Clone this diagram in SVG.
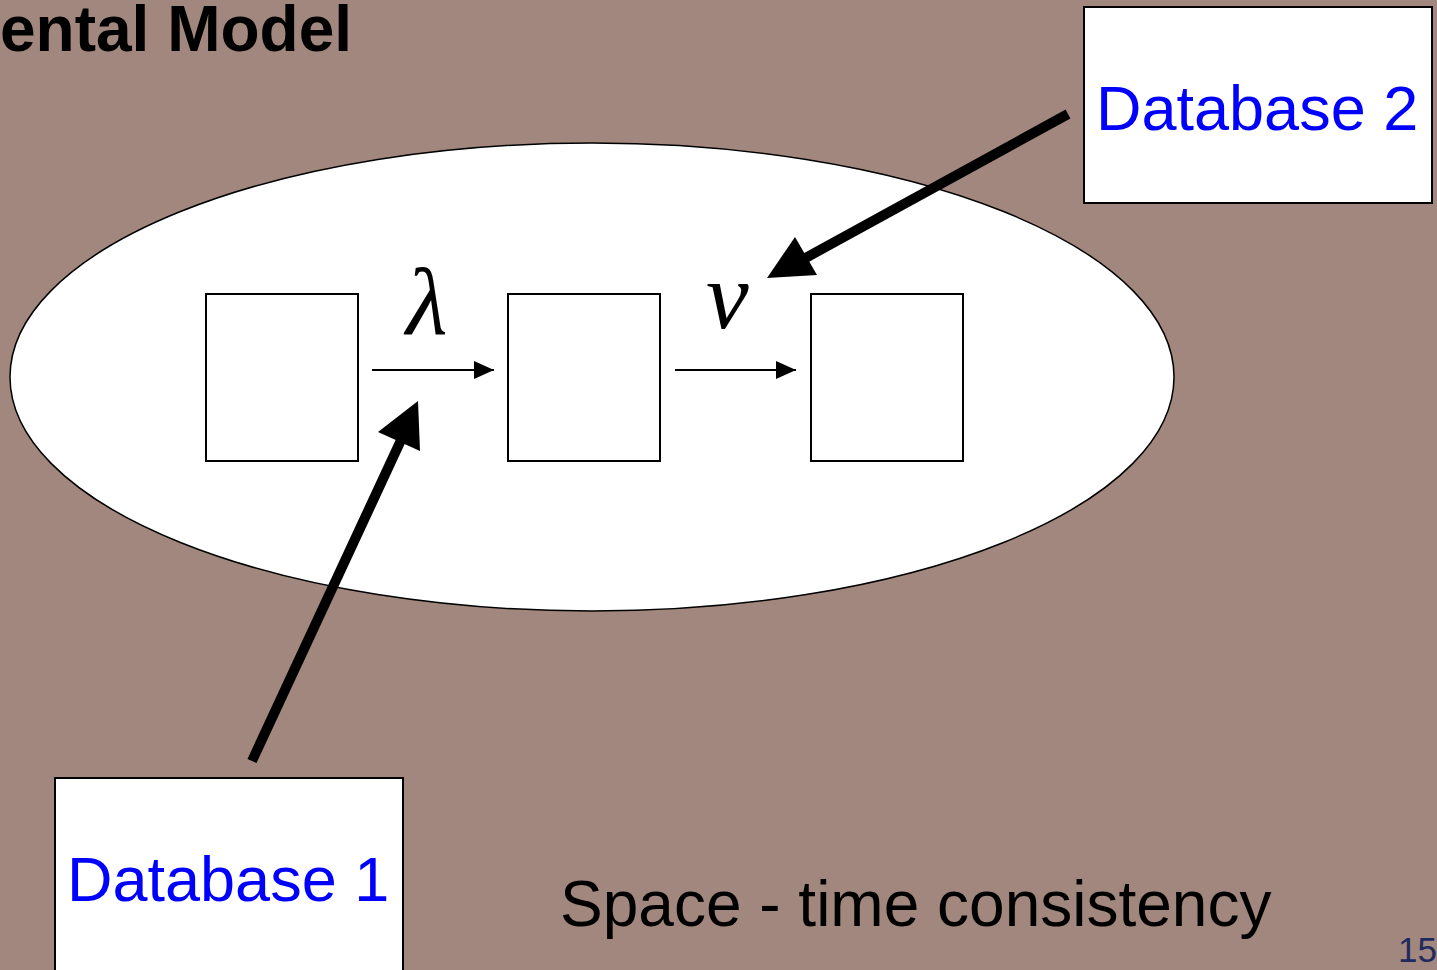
<svg xmlns="http://www.w3.org/2000/svg" width="1437" height="970" viewBox="0 0 1437 970">
<defs>
<style>
.box{fill:#fff;stroke:#000;stroke-width:2}
.db{font-family:"Liberation Sans",Arial,sans-serif;font-size:63px;fill:#0000ff}
.thin{stroke:#000;stroke-width:2;fill:none}
.thick{stroke:#000;stroke-width:10;fill:none}
.greek{font-family:"Liberation Serif","DejaVu Serif",serif;font-style:italic;font-size:96px;fill:#000}
</style>
<marker id="ah" markerWidth="20" markerHeight="18" refX="20" refY="9" orient="auto" markerUnits="userSpaceOnUse">
<path d="M0,0 L20,9 L0,18 Z" fill="#000"/>
</marker>
</defs>
<rect x="0" y="0" width="1437" height="970" fill="#a1877d"/>
<text x="0" y="51" font-family="Liberation Sans,Arial,sans-serif" font-weight="bold" font-size="64" fill="#000">ental Model</text>
<g id="model">
<ellipse cx="592" cy="377" rx="582" ry="234" fill="#fff" stroke="#000" stroke-width="1.5"/>
</g>
<g id="state1"><rect class="box" x="206" y="294" width="152" height="167"/></g>
<g id="state2"><rect class="box" x="508" y="294" width="152" height="167"/></g>
<g id="state3"><rect class="box" x="811" y="294" width="152" height="167"/></g>
<g id="database2">
<rect class="box" x="1084" y="7" width="348" height="196"/>
<text class="db" x="1096" y="130">Database 2</text>
</g>
<g id="database1">
<rect class="box" x="55" y="778" width="348" height="200"/>
<text class="db" x="67" y="901">Database 1</text>
</g>
<g id="connectors">
<line class="thin" x1="372" y1="370" x2="494" y2="370" marker-end="url(#ah)"/>
<line class="thin" x1="675" y1="370" x2="796" y2="370" marker-end="url(#ah)"/>
<line class="thick" x1="252" y1="761" x2="402" y2="438"/>
<path d="M418,401 L378,432 L420,451 Z" fill="#000"/>
<line class="thick" x1="1068" y1="114" x2="800" y2="261"/>
<path d="M767,278 L795,237 L817,275 Z" fill="#000"/>
</g>
<text class="greek" x="406" y="334">λ</text>
<text class="greek" x="706" y="328">ν</text>
<text x="560" y="926" font-family="Liberation Sans,Arial,sans-serif" font-size="64" fill="#000">Space - time consistency</text>
<text x="1398" y="962" font-family="Liberation Sans,Arial,sans-serif" font-size="35" fill="#1f2a5e">15</text>
</svg>
